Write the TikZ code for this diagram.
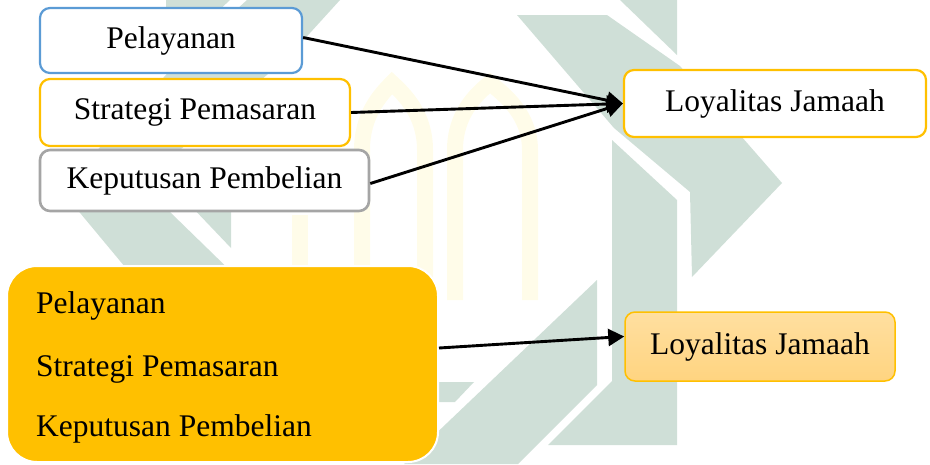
\documentclass[tikz,border=0pt]{standalone}
\usepackage{fontspec}
\setmainfont{Liberation Serif}
\usetikzlibrary{arrows.meta}
\definecolor{wmgreen}{RGB}{207,223,215}
\definecolor{wmyellow}{RGB}{255,252,233}
\definecolor{accblue}{RGB}{91,155,213}
\definecolor{accgold}{RGB}{255,192,0}
\definecolor{accgray}{RGB}{165,165,165}
\definecolor{ltop}{RGB}{255,223,160}
\definecolor{lbot}{RGB}{255,212,128}
\begin{document}
\begin{tikzpicture}[x=1pt,y=-1pt,font=\fontsize{31.5}{38}\selectfont,
  box/.style={draw, rounded corners=10pt, fill=white, line width=2.2pt, inner sep=0pt, align=center},
  arr/.style={line width=2.9pt, -{Triangle[length=16pt,width=17pt]}},
  wm/.style={fill=wmgreen, draw=none},
  wmy/.style={draw=wmyellow, line width=16pt}]
\useasboundingbox (0,0) rectangle (930,464);
% watermark (background logo)
\fill[wm] (517,15) -- (607,15) -- (680,66) -- (782,183) -- (692,277) -- (690,192) -- (614,128) -- cycle;
\fill[wm] (620,0) -- (677,0) -- (677,55) -- cycle;
\fill[wm] (612,140) -- (677,200) -- (677,445) -- (548,445) -- (612,381) -- cycle;
\fill[wm] (597,280) -- (597,385) -- (518,464) -- (404,464) -- cycle;
\fill[wm] (438,382) -- (474,382) -- (455,402) -- (438,402) -- cycle;
\fill[wm] (166,0) -- (230,0) -- (166,60) -- cycle;
\fill[wm] (340,0) -- (247,0) -- (174,66) -- (61,190) -- (140,285) -- (245,285) -- (170,212) -- (180,150) -- (290,55) -- cycle;
\fill[wm] (190,205) -- (231,205) -- (231,248) -- cycle;
\draw[wmy] (300,215) -- (300,300);
\draw[wmy] (362,300) -- (362,150) .. controls (362,115) and (380,95) .. (392,83) .. controls (405,95) and (425,115) .. (425,150) -- (425,300);
\draw[wmy] (455,300) -- (455,150) .. controls (455,115) and (475,95) .. (490,83) .. controls (505,95) and (530,115) .. (530,150) -- (530,300);
% main diagram
\node[box, draw=accblue, minimum width=262pt, minimum height=65pt] (pel) at (171,40.5) {Pelayanan};
\node[box, draw=accgold, minimum width=310pt, minimum height=67pt] (str) at (195,112.5) {Strategi Pemasaran};
\node[box, draw=accgray, line width=2.6pt, minimum width=329pt, minimum height=61pt] (kep) at (204.5,180.5) {Keputusan Pembelian};
\node[box, draw=accgold, minimum width=302pt, minimum height=67pt] (loy1) at (775,103.5) {Loyalitas Jamaah};
\node[draw=white, line width=2pt, fill=accgold, rounded corners=30pt, minimum width=431pt, minimum height=196pt, inner sep=0pt] (grp) at (222.5,364) {};
\node[anchor=base west, inner sep=0pt] (g1) at (36,313) {Pelayanan};
\node[anchor=base west, inner sep=0pt] (g2) at (36,376) {Strategi Pemasaran};
\node[anchor=base west, inner sep=0pt] (g3) at (36,436) {Keputusan Pembelian};
\node[draw=accgold, line width=1.5pt, rounded corners=10pt, top color=ltop, bottom color=lbot, minimum width=270pt, minimum height=69pt, inner sep=0pt] (loy2) at (760,346.5) {Loyalitas Jamaah};
\draw[arr] ([yshift=3pt]pel.east) -- (loy1.west);
\draw[arr] (str.east) -- (loy1.west);
\draw[arr] ([yshift=-3pt]kep.east) -- (loy1.west);
\draw[arr] ([yshift=16pt]grp.east) -- ([yshift=10pt]loy2.west);
\end{tikzpicture}
\end{document}
